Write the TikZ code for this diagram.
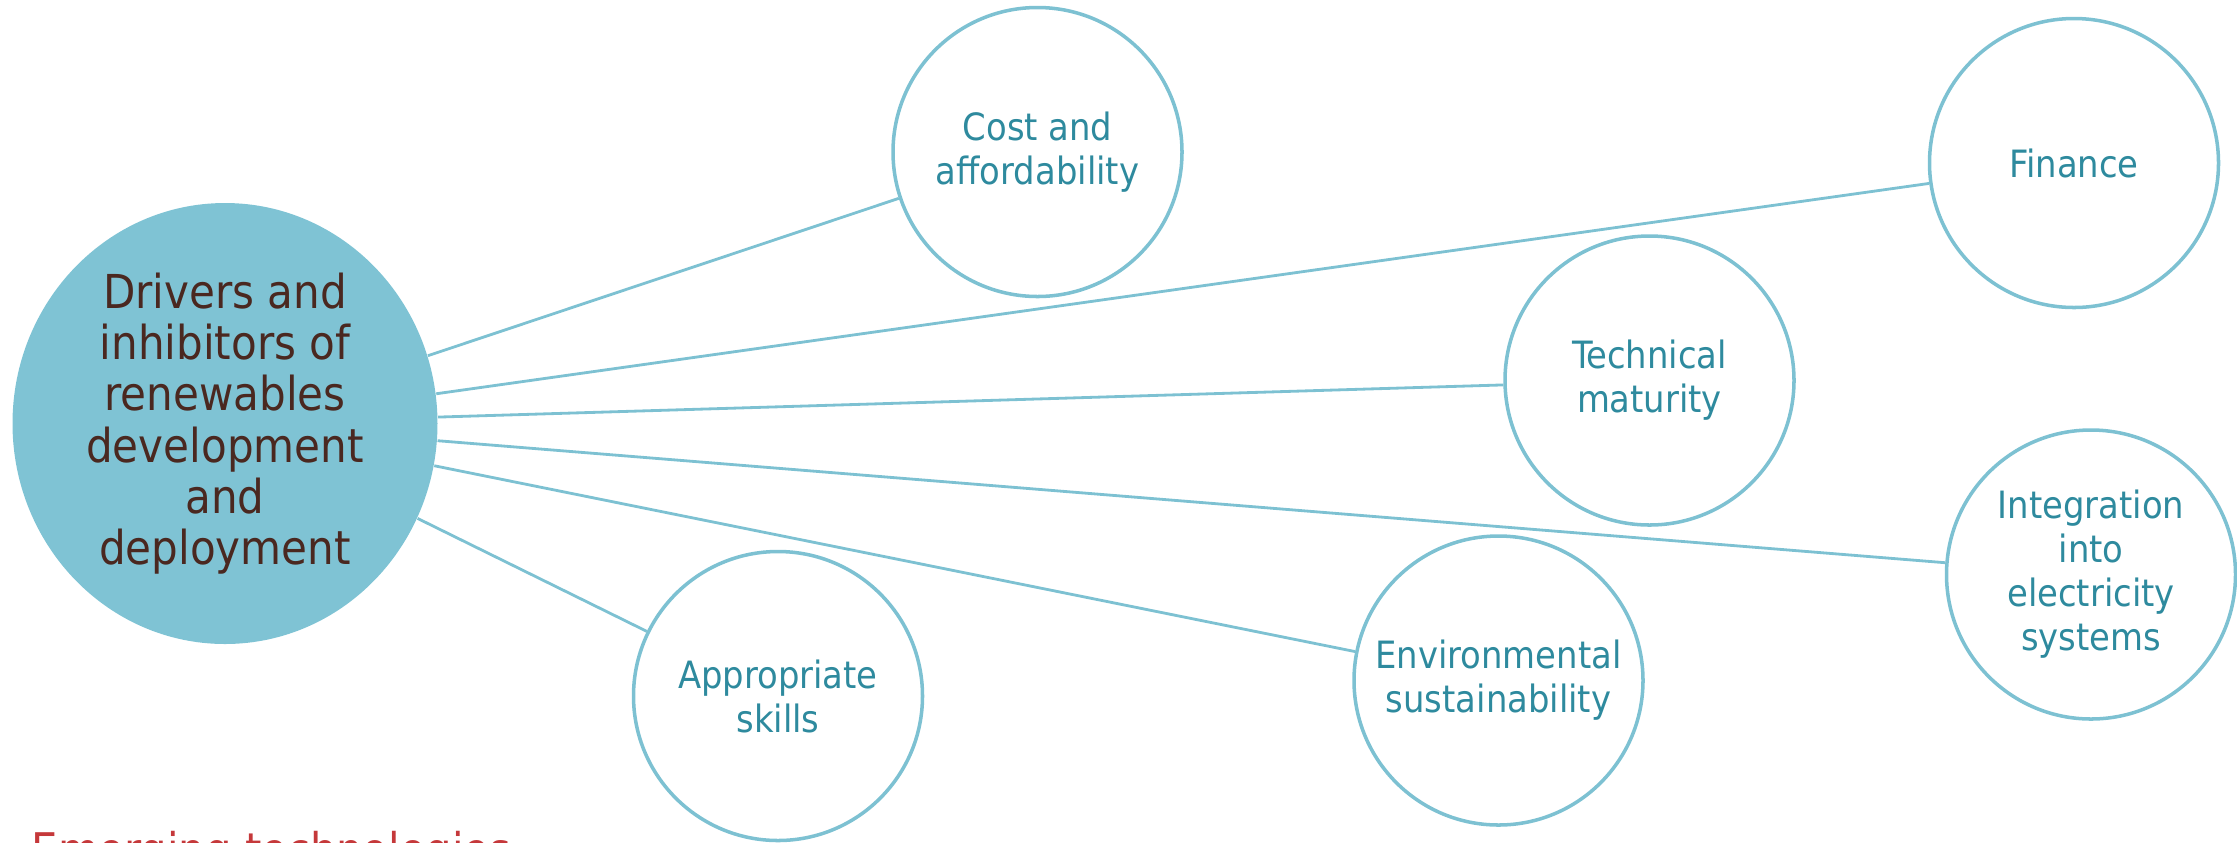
\documentclass[tikz,border=0pt]{standalone}
\usepackage{fontspec}
\setmainfont{DejaVu Sans Condensed}
\usetikzlibrary{shapes.geometric}

\definecolor{hubfill}{HTML}{7FC3D4}
\definecolor{ringline}{HTML}{7DC1D2}
\definecolor{ringtext}{HTML}{2E8A9E}
\definecolor{hubtext}{HTML}{4A2820}
\definecolor{titlered}{HTML}{C5383A}

\begin{document}
\begin{tikzpicture}[
    hub/.style={ellipse, fill=hubfill, minimum width=4.25cm, minimum height=4.41cm,
        inner sep=0pt, align=center, text=hubtext,
        font=\fontsize{13.3}{14.6}\selectfont},
    factor/.style={circle, draw=ringline, line width=1pt, fill=white,
        minimum size=2.89cm, inner sep=0pt, align=center, text=ringtext,
        font=\fontsize{10.7}{12.5}\selectfont},
    link/.style={draw=ringline, line width=0.8pt}
]
\useasboundingbox (0,0) rectangle (22.37,-8.42);

% ── Central topic ───────────────────────────────────────────
\node[hub] (hub) at (2.25,-4.235)
    {Drivers and\\inhibitors of\\renewables\\development\\and\\deployment};

% ── Surrounding factors ─────────────────────────────────────
\node[factor] (cost)   at (10.375,-1.52) {Cost and\\affordability};
\node[factor] (fin)    at (20.74,-1.63)  {Finance};
\node[factor] (tech)   at (16.495,-3.805){Technical\\maturity};
\node[factor] (integ)  at (20.91,-5.745) {Integration\\into\\electricity\\systems};
\node[factor] (env)    at (14.985,-6.805){Environmental\\sustainability};
\node[factor] (skills) at (7.78,-6.96)   {Appropriate\\skills};

% ── Spokes ──────────────────────────────────────────────────
\foreach \f in {cost, fin, tech, integ, env, skills}
    \draw[link] (hub) -- (\f);

% ── Next heading, cut by the page edge ──────────────────────
\node[anchor=base west, inner sep=0pt, text=titlered,
      font=\fontsize{13.2}{15}\selectfont] (emerg) at (0.31,-8.66)
    {Emerging technologies};

\end{tikzpicture}
\end{document}
